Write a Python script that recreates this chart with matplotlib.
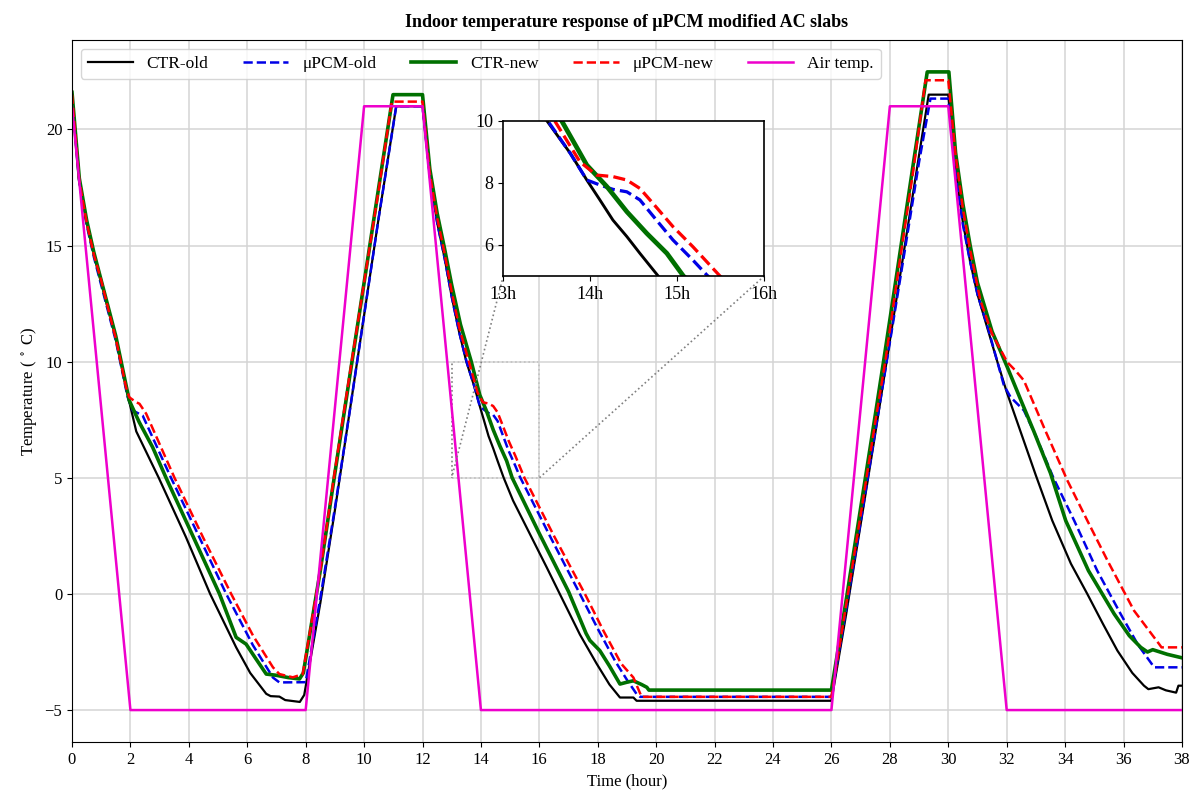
import matplotlib
matplotlib.use("Agg")
import matplotlib.pyplot as plt
from mpl_toolkits.axes_grid1.inset_locator import mark_inset

plt.rcParams['font.family'] = ['Liberation Serif', 'DejaVu Serif']
plt.rcParams['mathtext.fontset'] = 'stix'

# ---------------- data (hours, deg C) ----------------
air_t = [0, 2, 8, 10, 12, 14, 26, 28, 30, 32, 38]
air_T = [21, -5, -5, 21, 21, -5, -5, 21, 21, -5, -5]

ctr_old_t = [0, 0.25, 0.5, 0.75, 1.0, 1.5, 1.9, 2.2, 2.97, 3.9, 4.73, 5.62, 6.1, 6.65, 6.8, 7.1, 7.3, 7.8, 7.95,
             8.5, 9.0, 9.5, 10.0, 10.5, 11.1, 12.0,
             12.25, 12.5, 12.75, 13.0, 13.25, 13.5, 13.77, 13.96, 14.11, 14.26, 14.42, 14.57, 14.78, 15.1, 16.25,
             16.7, 17.39, 17.96, 18.4, 18.76, 19.22, 19.33, 26.0,
             26.5, 27.0, 27.5, 28.0, 28.5, 29.0, 29.33, 30.0,
             30.25, 30.5, 30.75, 31.0, 31.35, 31.68, 32.0, 32.5, 33.0, 33.56, 34.2, 34.76, 35.3, 35.79, 36.3,
             36.7, 36.85, 37.2, 37.45, 37.8, 37.88, 38.0]
ctr_old_T = [21.5, 17.8, 16.0, 14.6, 13.4, 11.0, 8.6, 7.0, 5.0, 2.45, 0.0, -2.3, -3.4, -4.3, -4.4, -4.42, -4.57, -4.65, -4.35,
             -0.4, 3.6, 7.8, 12.0, 16.2, 21.0, 21.0,
             18.0, 16.0, 14.5, 12.8, 11.3, 10.0, 8.95, 8.09, 7.45, 6.8, 6.27, 5.73, 5.0, 4.02, 1.15,
             0.0, -1.75, -3.0, -3.9, -4.46, -4.46, -4.6, -4.6,
             -0.9, 3.0, 6.9, 10.9, 14.9, 18.9, 21.5, 21.5,
             18.3, 16.0, 14.3, 12.9, 11.4, 10.0, 8.7, 6.9, 5.1, 3.16, 1.3, 0.0, -1.3, -2.44, -3.4,
             -3.95, -4.1, -4.02, -4.15, -4.25, -3.95, -3.95]

pcm_old_t = [0, 0.25, 0.5, 0.75, 1.0, 1.5, 1.9, 2.08, 2.42, 3.39, 4.3, 5.28, 6.19, 6.88, 7.1, 8.0,
             8.5, 9.0, 9.5, 10.0, 10.5, 11.1, 12.0,
             12.25, 12.5, 12.75, 13.0, 13.25, 13.51, 13.77, 13.96, 14.11, 14.26, 14.42, 14.57, 14.76, 14.95, 15.18,
             15.34, 16.4, 17.39, 18.0, 18.6, 19.0, 19.33, 19.45, 26.0,
             26.5, 27.0, 27.5, 27.9, 28.5, 29.0, 29.39, 30.0,
             30.25, 30.5, 30.75, 31.0, 31.35, 31.68, 31.9, 32.13, 32.59, 33.0, 33.6, 34.31, 35.1, 35.9, 36.5,
             37.05, 38.0]
pcm_old_T = [21.4, 17.7, 15.9, 14.5, 13.3, 10.9, 8.5, 7.9, 7.68, 5.0, 2.6, 0.0, -2.2, -3.6, -3.81, -3.8,
             -0.2, 3.7, 7.8, 12.0, 16.2, 21.0, 21.0,
             18.0, 16.0, 14.5, 12.8, 11.3, 10.0, 8.95, 8.09, 7.93, 7.79, 7.71, 7.45, 6.8, 6.16, 5.51,
             5.03, 2.4, 0.0, -1.5, -2.9, -3.7, -4.31, -4.43, -4.43,
             -0.7, 3.1, 7.0, 10.06, 14.7, 18.6, 21.33, 21.33,
             18.2, 15.9, 14.3, 12.9, 11.5, 10.0, 9.0, 8.48, 7.9, 6.8, 5.0, 3.16, 1.0, -0.86, -2.2,
             -3.16, -3.16]

ctr_new_t = [0, 0.25, 0.5, 0.75, 1.0, 1.5, 1.96, 2.3, 2.76, 3.22, 4.1, 5.05, 5.62, 5.96, 6.3, 6.65, 6.98, 7.4, 7.79, 7.92,
             8.5, 9.0, 9.5, 10.0, 10.5, 10.99, 12.0,
             12.25, 12.5, 12.75, 13.0, 13.3, 13.67, 13.96, 14.19, 14.42, 14.65, 14.88, 15.07, 16.0, 17.0, 17.6,
             17.73, 18.07, 18.4, 18.76, 19.0, 19.22, 19.5, 19.68, 19.75, 26.0,
             26.5, 27.0, 27.5, 27.79, 28.3, 28.8, 29.28, 30.02,
             30.25, 30.5, 30.75, 31.0, 31.5, 32.02, 32.5, 32.93, 33.5, 34.02, 34.8, 35.68, 36.2, 36.59, 36.82,
             37.0, 37.5, 38.0]
ctr_new_T = [21.6, 17.9, 16.1, 14.7, 13.5, 11.1, 8.33, 7.4, 6.32, 5.0, 2.6, 0.0, -1.87, -2.16, -2.8, -3.45, -3.5, -3.6, -3.66, -3.4,
             1.0, 5.2, 9.3, 13.4, 17.5, 21.5, 21.5,
             18.3, 16.4, 14.9, 13.3, 11.6, 10.0, 8.57, 7.88, 7.07, 6.37, 5.73, 5.0, 2.6, 0.1, -1.7,
             -2.0, -2.44, -3.1, -3.88, -3.8, -3.74, -3.9, -4.02, -4.14, -4.14,
             -0.3, 3.7, 7.7, 10.06, 14.3, 18.5, 22.48, 22.48,
             19.0, 16.8, 15.0, 13.4, 11.3, 9.77, 8.3, 7.0, 5.2, 3.16, 1.0, -0.86, -1.8, -2.3, -2.5,
             -2.4, -2.6, -2.75]

pcm_new_t = [0, 0.25, 0.5, 0.75, 1.0, 1.28, 1.5, 1.85, 1.96, 2.19, 2.31, 2.54, 3.51, 4.5, 5.45, 6.2, 6.88, 7.1, 7.56, 7.9,
             8.5, 9.0, 9.5, 10.0, 10.5, 10.95, 12.0,
             12.25, 12.5, 12.75, 13.0, 13.28, 13.59, 13.88, 14.07, 14.26, 14.42, 14.57, 14.72, 14.95, 15.18, 15.49,
             16.5, 17.56, 18.2, 18.8, 19.22, 19.5, 26.0,
             26.5, 27.0, 27.5, 27.85, 28.3, 28.8, 29.22, 30.0,
             30.25, 30.5, 30.75, 31.1, 31.5, 32.02, 32.3, 32.59, 33.3, 34.08, 34.76, 35.45, 36.36, 37.22, 37.3,
             38.0]
pcm_new_T = [21.5, 17.8, 16.0, 14.6, 13.5, 12.07, 11.0, 8.9, 8.47, 8.26, 8.19, 7.76, 5.0, 2.4, 0.0, -1.8, -3.16, -3.45, -3.59, -3.45,
             1.0, 5.3, 9.4, 13.4, 17.4, 21.2, 21.2,
             18.1, 16.2, 14.7, 13.0, 11.35, 10.0, 8.68, 8.25, 8.2, 8.09, 7.82, 7.34, 6.59, 5.94, 5.0,
             2.5, 0.0, -1.6, -3.0, -3.6, -4.43, -4.43,
             -0.5, 3.4, 7.4, 10.06, 14.0, 18.2, 22.12, 22.12,
             18.9, 16.6, 14.8, 12.64, 11.2, 9.98, 9.62, 9.19, 7.1, 4.88, 3.16, 1.44, -0.72, -2.16, -2.3,
             -2.3]

labels = ['CTR-old', 'μPCM-old', 'CTR-new', 'μPCM-new', 'Air temp.']

# ---------------- figure ----------------
fig = plt.figure(figsize=(11.98, 7.95), dpi=100)
ax = fig.add_axes([0.0601, 0.0667, 0.9265, 0.8830])


def draw(a, scale=1.0, with_air=True):
    a.plot(ctr_old_t, ctr_old_T, color='black', lw=1.6 * scale, label=labels[0])
    a.plot(pcm_old_t, pcm_old_T, color='#0000e6', lw=1.8 * scale, ls='--', label=labels[1])
    a.plot(ctr_new_t, ctr_new_T, color='#007000', lw=2.6 * scale, label=labels[2])
    a.plot(pcm_new_t, pcm_new_T, color='red', lw=1.8 * scale, ls='--', label=labels[3])
    if with_air:
        a.plot(air_t, air_T, color='#ee00cc', lw=1.8, label=labels[4])


draw(ax)
ax.set_xlim(0, 38)
ax.set_xticks(range(0, 39, 2))
ax.set_yticks([-5, 0, 5, 10, 15, 20])
ax.grid(True, color='#d4d4d4', lw=1.1)
ax.tick_params(labelsize=12)
ax.set_xlabel('Time (hour)', fontsize=12, labelpad=4)
ax.set_ylabel(r'Temperature ( $^\circ$ C)', fontsize=12)
ax.set_title('Indoor temperature response of μPCM modified AC slabs', fontsize=13, fontweight='bold', pad=9)
ax.legend(loc='upper left', ncol=5, fontsize=12.5, handlelength=2.6, columnspacing=2.0,
          frameon=True, fancybox=True, bbox_to_anchor=(0.0, 1.0), borderaxespad=0.5)

# inset
axins = fig.add_axes([503.3 / 1198, 1 - 276 / 795, 261 / 1198, 155.3 / 795])
draw(axins, scale=1.3, with_air=False)
axins.set_xlim(13, 16)
axins.set_ylim(5, 10)
axins.set_xticks([13, 14, 15, 16])
axins.set_xticklabels(['13h', '14h', '15h', '16h'])
axins.set_yticks([6, 8, 10])
axins.tick_params(labelsize=13)
for s in axins.spines.values():
    s.set_linewidth(1.2)
mark_inset(ax, axins, loc1=3, loc2=4, fc='none', ec='0.5', ls=':', lw=1.2)

fig.savefig('out.png', dpi=100)
